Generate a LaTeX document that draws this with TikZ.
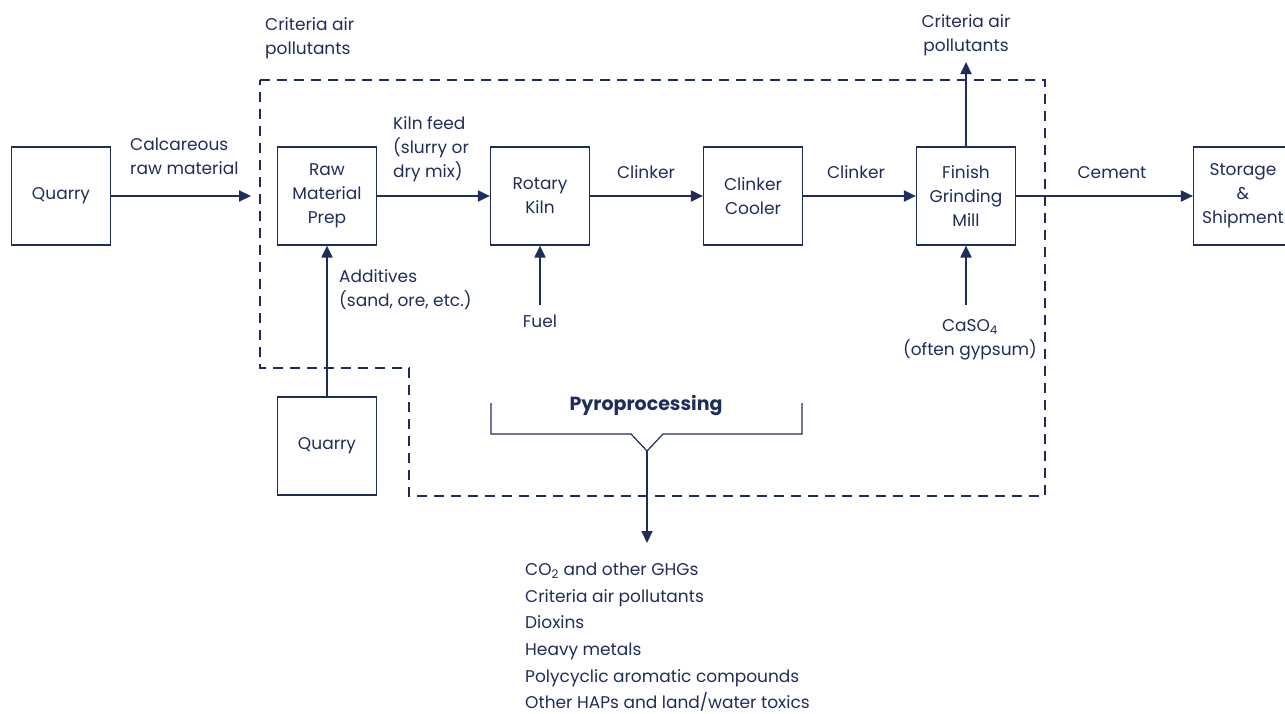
\documentclass[tikz,border=0pt]{standalone}
\usepackage{fontspec}
\setmainfont{Poppins}
\usetikzlibrary{arrows.meta,positioning}
\definecolor{navy}{HTML}{1F2D5C}

\tikzset{
  unit/.style={draw=navy,line width=1.2pt,minimum width=99pt,minimum height=98pt,
    align=center,text=navy,inner sep=2pt},
  flow/.style={-{Triangle[length=12pt,width=11pt]},line width=2pt,navy},
  lbl/.style={text=navy,inner sep=0pt},
  plant/.style={navy,line width=2pt,dash pattern=on 10pt off 7pt},
}

\begin{document}
\begin{tikzpicture}[x=1pt,y=-1pt,font=\fontsize{17}{24}\selectfont]
\useasboundingbox (0,0) rectangle (1285,713);
% plant boundary
\draw[plant] (260,80) -- (1045,80) -- (1045,496) -- (409,496) -- (409,368) -- (260,368) -- cycle;
% process units
\node[unit] (quarry) at (61,196) {Quarry};
\node[unit] (prep) at (327,196) {Raw\\Material\\Prep};
\node[unit] (kiln) at (540,196) {Rotary\\Kiln};
\node[unit] (cooler) at (753,196) {Clinker\\Cooler};
\node[unit] (mill) at (966,196) {Finish\\Grinding\\Mill};
\node[unit] (store) at (1243,196) {Storage\\\&\\Shipment};
\node[unit] (quarry2) at (327,446) {Quarry};
% free ends
\coordinate (entry) at (251,196);
\coordinate (fuelin) at (540,305);
\coordinate (gypin) at (966,305);
\coordinate (stack) at (966,62);
\coordinate (tip) at (647,451);
\coordinate (emis) at (647,543);
% main line
\draw[flow] (quarry) -- (entry);
\draw[flow] (prep) -- (kiln);
\draw[flow] (kiln) -- (cooler);
\draw[flow] (cooler) -- (mill);
\draw[flow] (mill) -- (store);
% side streams
\draw[flow] (quarry2) -- (prep);
\draw[flow] (fuelin) -- (kiln);
\draw[flow] (gypin) -- (mill);
\draw[flow] (mill) -- (stack);
% pyroprocessing brace
\draw[navy,line width=1.2pt] (491,403) -- (491,434) -- (631,434) -- (tip) -- (663,434) -- (802,434) -- (802,403);
\draw[flow] (tip) -- (emis);
% labels
\node[lbl,anchor=north west,align=left] (crit1) at (265,17) {Criteria air\\pollutants};
\node[lbl,anchor=north west,align=left] (calc) at (130,138) {Calcareous\\raw material};
\node[lbl,anchor=north west,align=left] (feed) at (393,116) {Kiln feed\\(slurry or\\dry mix)};
\node[lbl] (clk1) at (646,172) {Clinker};
\node[lbl] (clk2) at (856,172) {Clinker};
\node[lbl] (cement) at (1112,173) {Cement};
\node[lbl,align=center] (crit2) at (966,35) {Criteria air\\pollutants};
\node[lbl,anchor=north west,align=left] (addit) at (339,269) {Additives\\(sand, ore, etc.)};
\node[lbl] (fuel) at (540,321) {Fuel};
\node[lbl,align=center] (caso) at (970,340) {CaSO\textsubscript{4}\\(often gypsum)};
\node[lbl,font=\fontsize{19}{24}\selectfont\bfseries] (pyro) at (646,405) {Pyroprocessing};
\node[lbl,anchor=north west,align=left,font=\fontsize{17}{26.6}\selectfont] (list) at (525,563)
  {CO\textsubscript{2} and other GHGs\\Criteria air pollutants\\Dioxins\\Heavy metals\\Polycyclic aromatic compounds\\Other HAPs and land/water toxics};
\end{tikzpicture}
\end{document}
